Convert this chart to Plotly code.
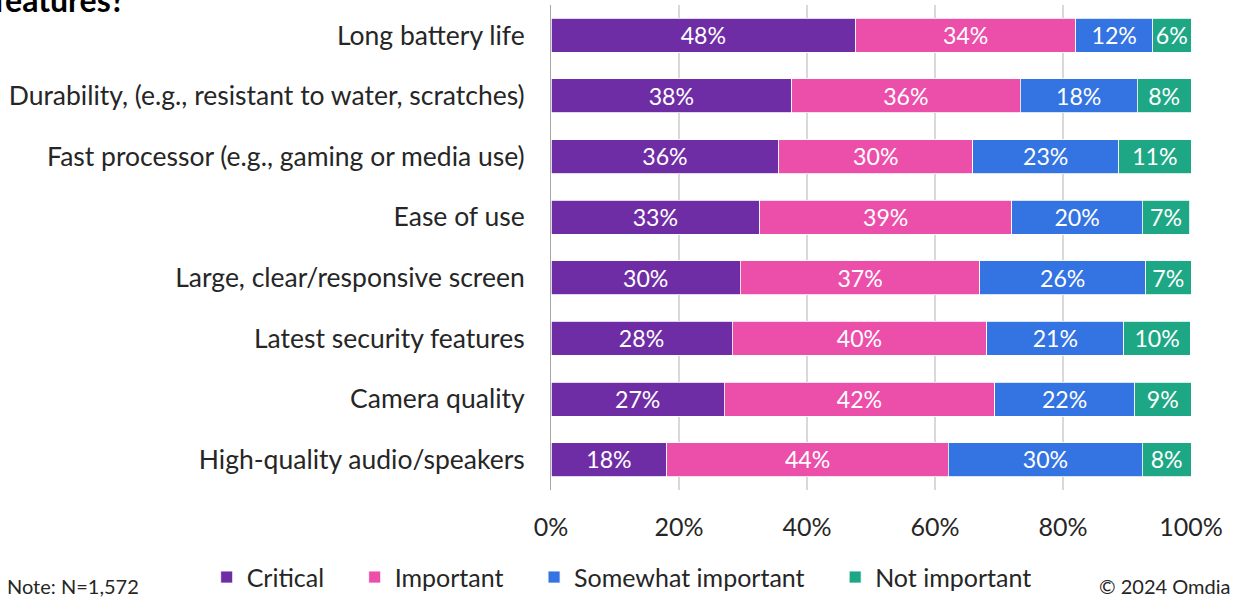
import plotly.graph_objects as go

categories = ["Long battery life", "Durability, (e.g., resistant to water, scratches)",
              "Fast processor (e.g., gaming or media use)", "Ease of use",
              "Large, clear/responsive screen", "Latest security features",
              "Camera quality", "High-quality audio/speakers"]
critical = [47.6, 37.6, 35.6, 32.6, 29.6, 28.3, 27.1, 18.1]
important = [34.4, 35.7, 30.3, 39.4, 37.4, 39.8, 42.2, 44.0]
somewhat = [12.0, 18.3, 22.8, 20.4, 25.9, 21.4, 21.9, 30.3]
not_important = [6.0, 8.4, 11.3, 7.4, 7.1, 10.4, 8.8, 7.6]
x_ticks = [0, 20, 40, 60, 80, 100]

FONT = "Lato"
PAD = "\u00a0" * 4  # widen the gap between legend entries
series = [("Critical", critical, "#6F2DA5"), ("Important", important, "#EC4FAA"),
          ("Somewhat important", somewhat, "#3473E2"), ("Not important", not_important, "#1EA784")]

fig = go.Figure()
for name, vals, col in series:
    fig.add_trace(go.Bar(y = categories, x = vals, name = name + PAD, orientation = 'h',
        marker = dict(color = col, line = dict(color = '#FFFFFF', width = 0.8)),
        texttemplate = "%{x:.0f}%", textposition = 'inside', insidetextanchor = 'middle',
        textfont = dict(color = '#FFFFFF', size = 26.5, family = FONT), textangle = 0))

fig.update_layout(barmode = 'stack', bargap = 0.44, width = 1234, height = 598,
    margin = dict(l = 551, r = 43, t = 5, b = 108, autoexpand = False), plot_bgcolor = '#FFFFFF', paper_bgcolor = '#FFFFFF',
    font = dict(family = FONT, color = '#262626'), uniformtext = dict(minsize = 10, mode = 'show'),
    legend = dict(orientation = 'h', x = -0.538, xanchor = 'left', y = -0.18, yanchor = 'middle',
                  font = dict(size = 25, family = FONT), itemwidth = 30, traceorder = 'normal'))
fig.update_xaxes(range = [0, 100], tickvals = x_ticks, ticktext = [f"{v}%" for v in x_ticks],
    showgrid = True, gridcolor = '#D9D9D9', gridwidth = 1.5, zeroline = False, automargin = False,
    tickfont = dict(size = 25, family = FONT, color = '#262626'), ticklabelstandoff = 20, fixedrange = True)
fig.update_yaxes(autorange = 'reversed', showline = True, linecolor = '#A6A6A6', linewidth = 1, automargin = False,
    tickfont = dict(size = 26.5, family = FONT, color = '#262626'), ticklabelstandoff = 20, fixedrange = True)

fig.add_annotation(text = "<b>features?</b>", xref = 'paper', yref = 'paper', x = -0.874, y = 1.012,
    xanchor = 'left', yanchor = 'middle', showarrow = False, font = dict(size = 32, family = FONT, color = '#000000'))
fig.add_annotation(text = "Note: N=1,572", xref = 'paper', yref = 'paper', x = -0.853, y = -0.197,
    xanchor = 'left', yanchor = 'middle', showarrow = False, font = dict(size = 20, family = FONT, color = '#262626'))
fig.add_annotation(text = "© 2024 Omdia", xref = 'paper', yref = 'paper', x = 1.064, y = -0.197,
    xanchor = 'right', yanchor = 'middle', showarrow = False, font = dict(size = 20, family = FONT, color = '#262626'))

fig.write_html("out.html", config = {'displayModeBar': False},
               post_script = "document.body.style.margin = '0';")
